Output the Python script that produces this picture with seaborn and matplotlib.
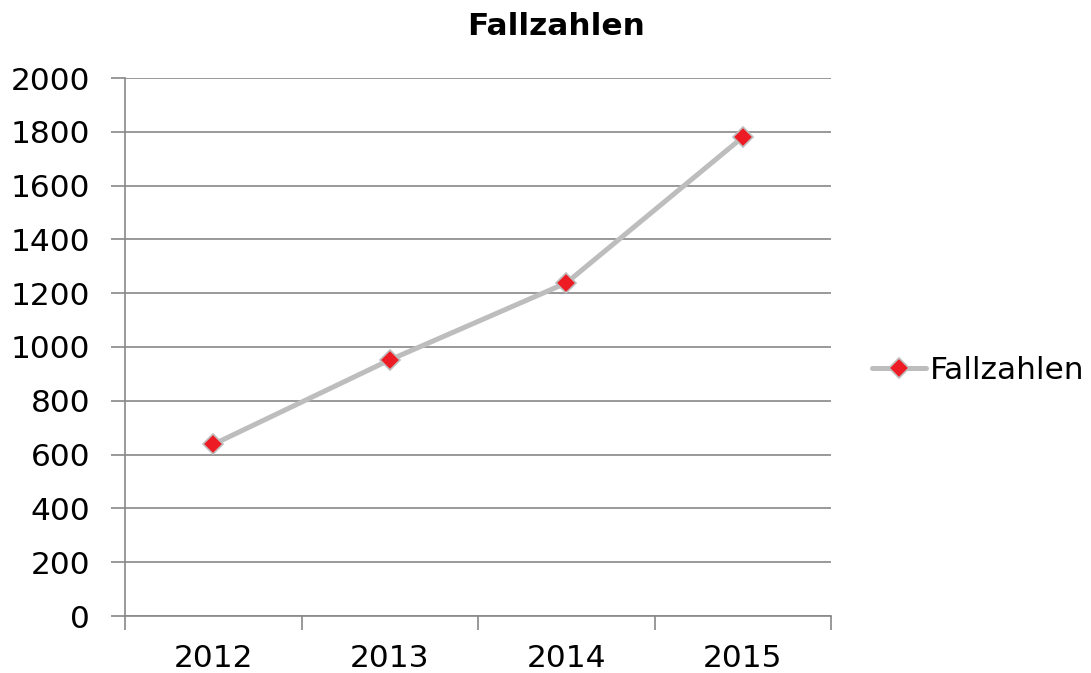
import numpy as np
import pandas as pd
import matplotlib
matplotlib.use('Agg')
import matplotlib.pyplot as plt
import seaborn as sns

years = ['2012', '2013', '2014', '2015']
cases = [638, 952, 1238, 1780]
series_name = 'Fallzahlen'

df = pd.DataFrame({'year': years, 'cases': cases})
df['pos'] = np.arange(len(years))

sns.set_style('white', {'xtick.bottom': True, 'ytick.left': True,
                        'text.color': 'black', 'xtick.color': 'black', 'ytick.color': 'black'})
plt.rcParams['font.family'] = ['DejaVu Sans']

fig = plt.figure(figsize=(10.91, 6.73), dpi=100)
ax = fig.add_axes([125 / 1091, 1 - 616 / 673, (831 - 125) / 1091, (616 - 78) / 673])

sns.lineplot(data=df, x='pos', y='cases', ax=ax, color='#bdbdbd', linewidth=3.6,
             marker='D', markersize=10, markerfacecolor='#ed1c24',
             markeredgecolor='#bdbdbd', markeredgewidth=1.2, label=series_name)

ax.set_xlim(-0.5, len(years) - 0.5)
ax.set_ylim(0, 2000)
ax.set_yticks(range(0, 2001, 200))
ax.set_xticks(np.arange(len(years)))
ax.set_xticklabels(years)
ax.set_xticks(np.arange(len(years) + 1) - 0.5, minor=True)
ax.tick_params(axis='x', which='major', length=0, labelsize=22.5, pad=20, labelcolor='black')
ax.tick_params(axis='x', which='minor', bottom=True, length=10, width=1.2, color='#888888', direction='out')
ax.tick_params(axis='y', left=True, length=10, width=1.2, color='#888888', direction='out',
               labelsize=22.5, pad=15, labelcolor='black')
ax.grid(axis='y', color='#888888', linewidth=1.2)
ax.set_axisbelow(True)
ax.set_xlabel('')
ax.set_ylabel('')
for s in ['top', 'right']:
    ax.spines[s].set_visible(False)
for s in ['left', 'bottom']:
    ax.spines[s].set_color('#888888')
    ax.spines[s].set_linewidth(1.2)

ax.legend_.remove()
h, l = ax.get_legend_handles_labels()
fig.legend(h, l, loc='center left', bbox_to_anchor=(0.799, 0.45), frameon=False,
           fontsize=22.5, handlelength=1.75, handletextpad=0.12, borderpad=0, borderaxespad=0)

fig.suptitle('Fallzahlen', x=0.51, y=0.982, fontsize=22.5, fontweight='bold', color='black')

fig.savefig('out.png', dpi=100)
